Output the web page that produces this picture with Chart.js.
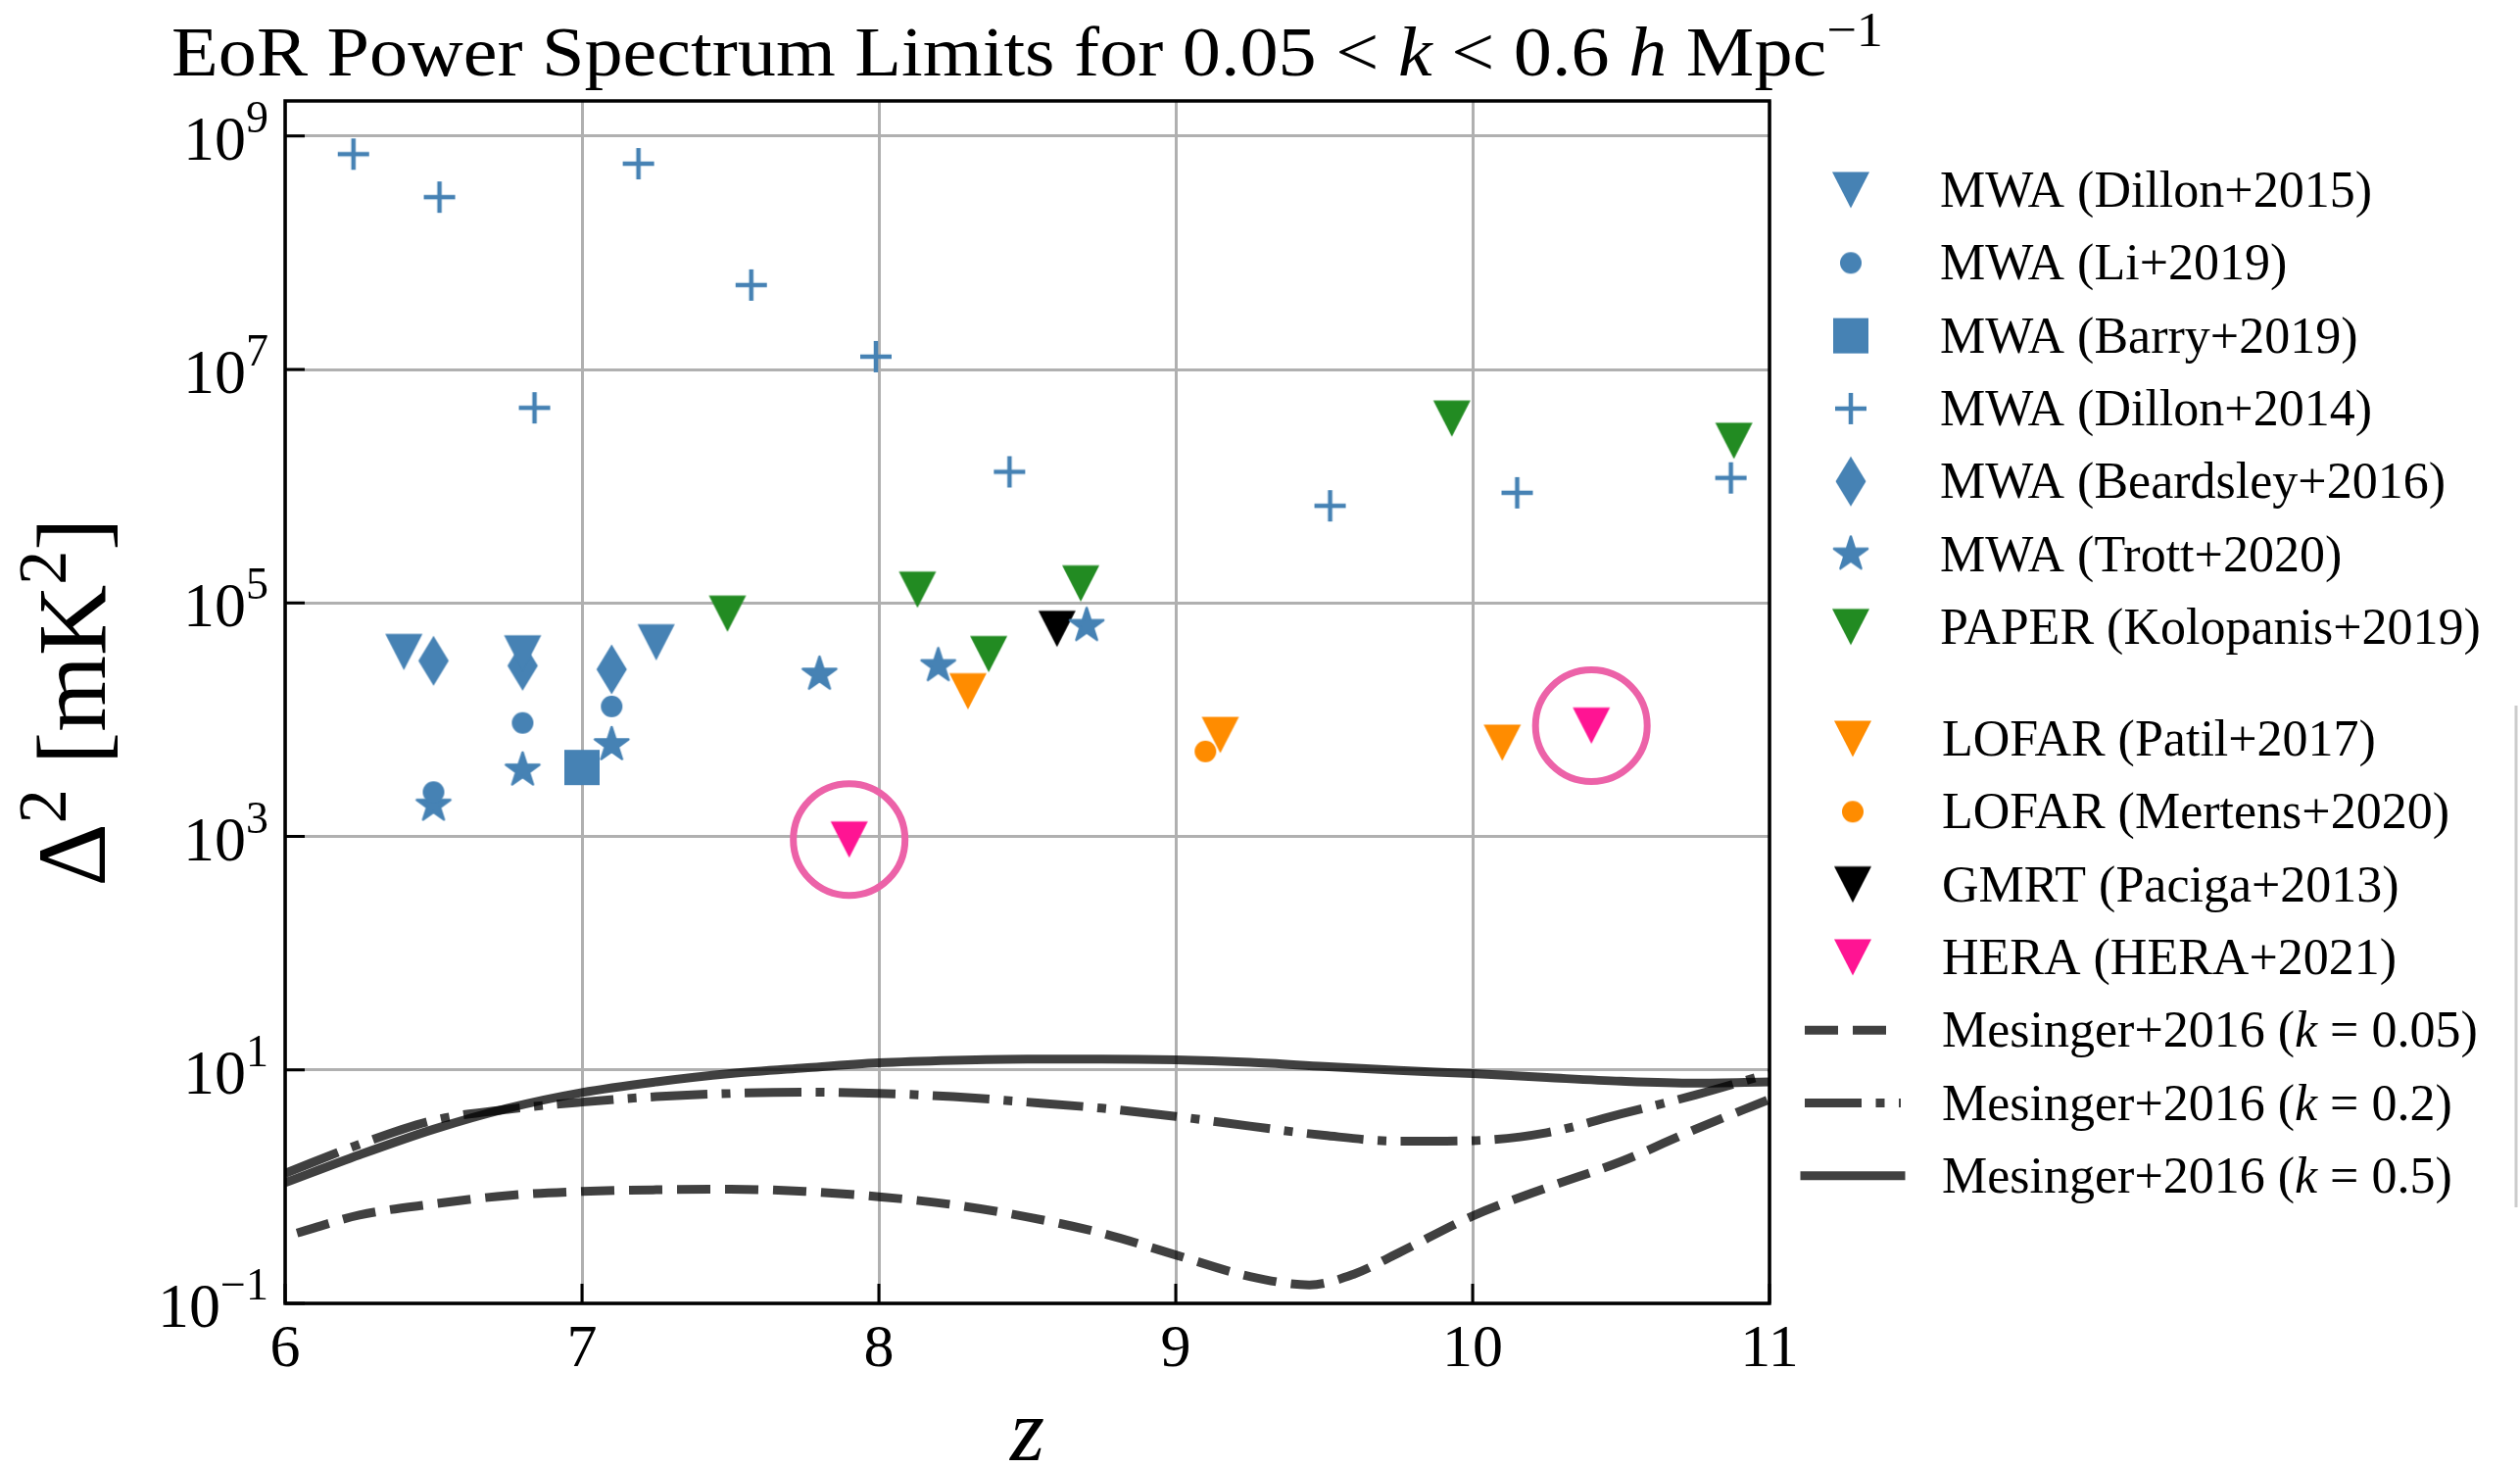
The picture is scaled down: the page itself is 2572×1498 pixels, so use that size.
<!DOCTYPE html>
<html>
<head>
<meta charset="utf-8">
<title>EoR Power Spectrum Limits</title>
<script src="https://cdn.jsdelivr.net/npm/chart.js@4.4.1/dist/chart.umd.min.js"></script>
<style>
  html, body { margin: 0; padding: 0; background: #fff; }
  canvas { display: block; }
</style>
</head>
<body>
<canvas id="eorChart" width="2572" height="1498" style="width:2572px;height:1498px"></canvas>
<script>
// upper limits: redshift z and Delta^2 in mK^2
const dillon2015Z = [6.40, 6.80, 7.25];
const dillon2015P = [3.8e4, 3.7e4, 4.6e4];
const li2019Z = [6.50, 6.80, 7.10];
const li2019P = [2.4e3, 9.4e3, 1.3e4];
const barry2019Z = [7.00];
const barry2019P = [3.9e3];
const dillon2014Z = [6.23, 6.52, 6.84, 7.19, 7.57, 7.99, 8.44, 9.52, 10.15, 10.87];
const dillon2014P = [7.0e8, 3.0e8, 4.7e6, 5.8e8, 5.3e7, 1.29e7, 1.33e6, 6.8e5, 8.8e5, 1.18e6];
const beardsley2016Z = [6.50, 6.80, 7.10];
const beardsley2016P = [3.2e4, 2.9e4, 2.7e4];
const trott2020Z = [6.50, 6.80, 7.10, 7.80, 8.20, 8.70];
const trott2020P = [1.85e3, 3.7e3, 6.1e3, 2.45e4, 2.9e4, 6.4e4];
const kolopanis2019Z = [7.49, 8.13, 8.37, 8.68, 9.93, 10.88];
const kolopanis2019P = [8.1e4, 1.3e5, 3.65e4, 1.47e5, 3.8e6, 2.45e6];
const patil2017Z = [8.30, 9.15, 10.10];
const patil2017P = [1.75e4, 7.4e3, 6.35e3];
const mertens2020Z = [9.10];
const mertens2020P = [5.35e3];
const paciga2013Z = [8.60];
const paciga2013P = [6.0e4];
const hera2021Z = [7.90, 10.40];
const hera2021P = [9.4e2, 8.9e3];

// Mesinger+2016 model curves
const mesingerZ = [6.0, 6.25, 6.5, 6.75, 7.0, 7.25, 7.5, 7.75, 8.0, 8.25, 8.5, 8.75, 9.0, 9.25, 9.5, 9.75, 10.0, 10.25, 10.5, 10.75, 11.0];
const mesingerK05 = [1.08, 1.87, 3.1, 4.7, 6.4, 7.9, 9.3, 10.4, 11.5, 12.1, 12.4, 12.4, 12.2, 11.6, 10.7, 9.9, 9.3, 8.6, 8.0, 7.7, 7.9];
const mesingerK02 = [1.3, 2.3, 3.7, 4.6, 5.3, 5.9, 6.3, 6.45, 6.3, 5.9, 5.3, 4.7, 4.0, 3.3, 2.75, 2.45, 2.48, 2.9, 4.2, 6.1, 9.3];
const mesingerK005Z = [6.04, 6.25, 6.5, 6.75, 7.0, 7.25, 7.5, 7.75, 8.0, 8.25, 8.5, 8.75, 9.0, 9.25, 9.45, 9.6, 9.75, 10.0, 10.25, 10.5, 10.75, 11.0];
const mesingerK005 = [0.40, 0.57, 0.71, 0.84, 0.91, 0.94, 0.95, 0.91, 0.82, 0.70, 0.55, 0.40, 0.26, 0.17, 0.144, 0.178, 0.27, 0.56, 0.98, 1.64, 3.1, 5.6];

const xTickValues = [6, 7, 8, 9, 10, 11];
const yTickValues = [1e-1, 1e1, 1e3, 1e5, 1e7, 1e9];

const SERIF = '"Liberation Serif", "DejaVu Serif", serif';
const STEEL = '#4682B4';
const GREEN = '#228B22';
const ORANGE = '#FF8C00';
const PINK = '#FF1493';
const RING = '#EC62A8';
const CURVE = 'rgba(0,0,0,0.75)';

function pts(zs, vs) {
  return zs.map((z, i) => ({ x: z, y: vs[i] }));
}

// matplotlib-like marker glyphs drawn once into small canvases
function makeMarker(shape, color, w, h) {
  const c = document.createElement('canvas');
  c.width = 2 * Math.ceil(w / 2) + 4;
  c.height = 2 * Math.ceil(h / 2) + 4;
  const g = c.getContext('2d');
  const cx = c.width / 2, cy = c.height / 2;
  g.fillStyle = color;
  g.strokeStyle = color;
  g.beginPath();
  if (shape === 'triDown') {
    g.moveTo(cx - w / 2, cy - h / 2);
    g.lineTo(cx + w / 2, cy - h / 2);
    g.lineTo(cx, cy + h / 2);
    g.closePath();
    g.fill();
  } else if (shape === 'circle') {
    g.arc(cx, cy, w / 2, 0, Math.PI * 2);
    g.fill();
  } else if (shape === 'square') {
    g.fillRect(cx - w / 2, cy - h / 2, w, h);
  } else if (shape === 'plus') {
    g.lineWidth = 4.5;
    g.moveTo(cx - w / 2, cy); g.lineTo(cx + w / 2, cy);
    g.moveTo(cx, cy - h / 2); g.lineTo(cx, cy + h / 2);
    g.stroke();
  } else if (shape === 'thinDiamond') {
    g.moveTo(cx, cy - h / 2);
    g.lineTo(cx + w / 2, cy);
    g.lineTo(cx, cy + h / 2);
    g.lineTo(cx - w / 2, cy);
    g.closePath();
    g.fill();
  } else if (shape === 'star') {
    const R = h / 2, r = R * 0.381966;
    for (let i = 0; i < 10; i++) {
      const ang = -Math.PI / 2 + i * Math.PI / 5;
      const rad = i % 2 ? r : R;
      g.lineTo(cx + rad * Math.cos(ang), cy + rad * Math.sin(ang));
    }
    g.closePath();
    g.fill();
    g.lineWidth = 2.5;
    g.lineJoin = 'round';
    g.stroke();
  }
  return c;
}

function markerSet(label, zs, vs, marker) {
  return {
    label: label,
    data: pts(zs, vs),
    pointStyle: marker,
    pointRadius: 12,
    pointHoverRadius: 12,
    showLine: false
  };
}

function curveSet(label, zs, vs, dash) {
  return {
    label: label,
    data: pts(zs, vs),
    showLine: true,
    borderColor: CURVE,
    borderWidth: 9,
    borderDash: dash,
    pointRadius: 0,
    pointHoverRadius: 0,
    cubicInterpolationMode: 'monotone',
    fill: false
  };
}

const datasets = [
  markerSet('MWA (Dillon+2015)', dillon2015Z, dillon2015P, makeMarker('triDown', STEEL, 38, 37)),
  markerSet('MWA (Li+2019)', li2019Z, li2019P, makeMarker('circle', STEEL, 22, 22)),
  markerSet('MWA (Barry+2019)', barry2019Z, barry2019P, makeMarker('square', STEEL, 36, 36)),
  markerSet('MWA (Dillon+2014)', dillon2014Z, dillon2014P, makeMarker('plus', STEEL, 32, 32)),
  markerSet('MWA (Beardsley+2016)', beardsley2016Z, beardsley2016P, makeMarker('thinDiamond', STEEL, 31, 51)),
  markerSet('MWA (Trott+2020)', trott2020Z, trott2020P, makeMarker('star', STEEL, 36, 36)),
  markerSet('PAPER (Kolopanis+2019)', kolopanis2019Z, kolopanis2019P, makeMarker('triDown', GREEN, 38, 37)),
  markerSet('LOFAR (Patil+2017)', patil2017Z, patil2017P, makeMarker('triDown', ORANGE, 38, 37)),
  markerSet('LOFAR (Mertens+2020)', mertens2020Z, mertens2020P, makeMarker('circle', ORANGE, 22, 22)),
  markerSet('GMRT (Paciga+2013)', paciga2013Z, paciga2013P, makeMarker('triDown', '#000000', 38, 37)),
  markerSet('HERA (HERA+2021)', hera2021Z, hera2021P, makeMarker('triDown', PINK, 38, 37)),
  {
    label: 'HERA highlight',
    noLegend: true,
    data: pts(hera2021Z, hera2021P),
    pointStyle: 'circle',
    pointRadius: 57,
    pointHoverRadius: 57,
    pointBorderWidth: 7,
    pointBorderColor: RING,
    pointBackgroundColor: 'rgba(0,0,0,0)',
    showLine: false
  },
  curveSet('Mesinger+2016 (k = 0.05)', mesingerK005Z, mesingerK005, [34, 15]),
  curveSet('Mesinger+2016 (k = 0.2)', mesingerZ, mesingerK02, [58, 14.5, 9, 14.5]),
  curveSet('Mesinger+2016 (k = 0.5)', mesingerZ, mesingerK05, [])
];

// parts: [text, size, italic, dy]
function drawRich(ctx, parts, x, y, align, fitWidth) {
  let total = 0;
  parts.forEach(p => {
    ctx.font = (p[2] ? 'italic ' : '') + p[1] + 'px ' + SERIF;
    p.w = ctx.measureText(p[0]).width;
    total += p.w;
  });
  const sx = fitWidth ? fitWidth / total : 1;
  const shown = total * sx;
  let start = x;
  if (align === 'center') start = x - shown / 2;
  if (align === 'right') start = x - shown;
  ctx.save();
  ctx.translate(start, y);
  ctx.scale(sx, 1);
  ctx.textAlign = 'left';
  ctx.textBaseline = 'alphabetic';
  let cx = 0;
  parts.forEach(p => {
    ctx.font = (p[2] ? 'italic ' : '') + p[1] + 'px ' + SERIF;
    ctx.fillText(p[0], cx, p[3] || 0);
    cx += p.w;
  });
  ctx.restore();
  return shown;
}

function labelParts(label, size) {
  const m = label.match(/^(.*\()k( = .*)$/);
  if (!m) return [[label, size]];
  return [[m[1], size], ['k', size, true], [m[2], size]];
}

const axesDecor = {
  id: 'axesDecor',
  afterDraw(chart) {
    const ctx = chart.ctx;
    const a = chart.chartArea;
    const xs = chart.scales.x, ys = chart.scales.y;
    ctx.save();
    ctx.fillStyle = '#000';
    ctx.strokeStyle = '#000';

    // inward ticks on left and bottom
    ctx.lineWidth = 3;
    ctx.beginPath();
    yTickValues.forEach(v => {
      const py = ys.getPixelForValue(v);
      ctx.moveTo(a.left, py); ctx.lineTo(a.left + 20, py);
    });
    xTickValues.forEach(v => {
      const px = xs.getPixelForValue(v);
      ctx.moveTo(px, a.bottom); ctx.lineTo(px, a.bottom - 20);
    });
    ctx.stroke();

    // frame
    ctx.lineWidth = 3.5;
    ctx.strokeRect(a.left, a.top, a.right - a.left, a.bottom - a.top);

    // tick labels
    yTickValues.forEach(v => {
      const py = ys.getPixelForValue(v);
      const e = Math.round(Math.log10(v));
      const exp = e < 0 ? '\u2212' + (-e) : String(e);
      drawRich(ctx, [['10', 64], [exp, 46, false, -28]], a.left - 17, py + 24, 'right');
    });
    xTickValues.forEach(v => {
      drawRich(ctx, [[String(v), 62]], xs.getPixelForValue(v), 1394, 'center');
    });

    // axis titles
    drawRich(ctx, [['z', 90, true]], (a.left + a.right) / 2, 1490, 'center');
    ctx.save();
    ctx.translate(107, (a.top + a.bottom) / 2);
    ctx.rotate(-Math.PI / 2);
    drawRich(ctx, [['\u0394', 100], ['2', 70, false, -40], [' [mK', 100], ['2', 70, false, -40], [']', 100]], 0, 0, 'center');
    ctx.restore();

    // title
    drawRich(ctx, [
      ['EoR Power Spectrum Limits for 0.05 ', 72],
      ['< ', 72], ['k', 72, true], [' < 0.6 ', 72], ['h', 72, true], [' Mpc', 72],
      ['\u22121', 50, false, -30]
    ], (a.left + a.right) / 2, 77, 'center', 1747);

    // legend
    const entries = chart.data.datasets.filter(d => !d.noLegend);
    entries.forEach((ds, i) => {
      const second = i >= 7;
      const row = second ? i - 7 : i;
      const y = (second ? 754 : 194) + row * 74.3;
      const mx = second ? 1891 : 1889;
      const tx = second ? 1982 : 1980;
      if (ds.showLine) {
        ctx.save();
        ctx.strokeStyle = ds.borderColor;
        ctx.lineWidth = ds.borderWidth;
        ctx.setLineDash(ds.borderDash);
        ctx.lineCap = ds.borderDash.length ? 'butt' : 'square';
        ctx.beginPath();
        ctx.moveTo(1842, y); ctx.lineTo(1940, y);
        ctx.stroke();
        ctx.restore();
      } else {
        const img = ds.pointStyle;
        ctx.drawImage(img, mx - img.width / 2, y - img.height / 2);
      }
      drawRich(ctx, labelParts(ds.label, 52), tx, y + 17, 'left');
    });

    // edge of the second legend frame, cut by the figure border
    ctx.strokeStyle = '#cccccc';
    ctx.lineWidth = 3;
    ctx.beginPath();
    ctx.moveTo(2568, 720); ctx.lineTo(2568, 1232);
    ctx.stroke();
    ctx.restore();
  }
};

new Chart(document.getElementById('eorChart'), {
  type: 'scatter',
  data: { datasets: datasets },
  options: {
    responsive: false,
    animation: false,
    devicePixelRatio: 1,
    layout: { padding: { left: 0, right: 766, top: 103, bottom: 0 } },
    plugins: {
      legend: { display: false },
      title: { display: false },
      tooltip: { enabled: false }
    },
    scales: {
      x: {
        type: 'linear',
        min: 6,
        max: 11,
        afterBuildTicks: s => { s.ticks = xTickValues.map(v => ({ value: v })); },
        ticks: { display: false },
        grid: { color: '#b0b0b0', lineWidth: 3, drawTicks: false },
        border: { display: false },
        afterFit: s => { s.height = 168; }
      },
      y: {
        type: 'logarithmic',
        min: 0.1,
        max: 2e9,
        afterBuildTicks: s => { s.ticks = yTickValues.map(v => ({ value: v })); },
        ticks: { display: false },
        grid: { color: '#b0b0b0', lineWidth: 3, drawTicks: false },
        border: { display: false },
        afterFit: s => { s.width = 291; }
      }
    }
  },
  plugins: [axesDecor]
});
</script>
</body>
</html>
